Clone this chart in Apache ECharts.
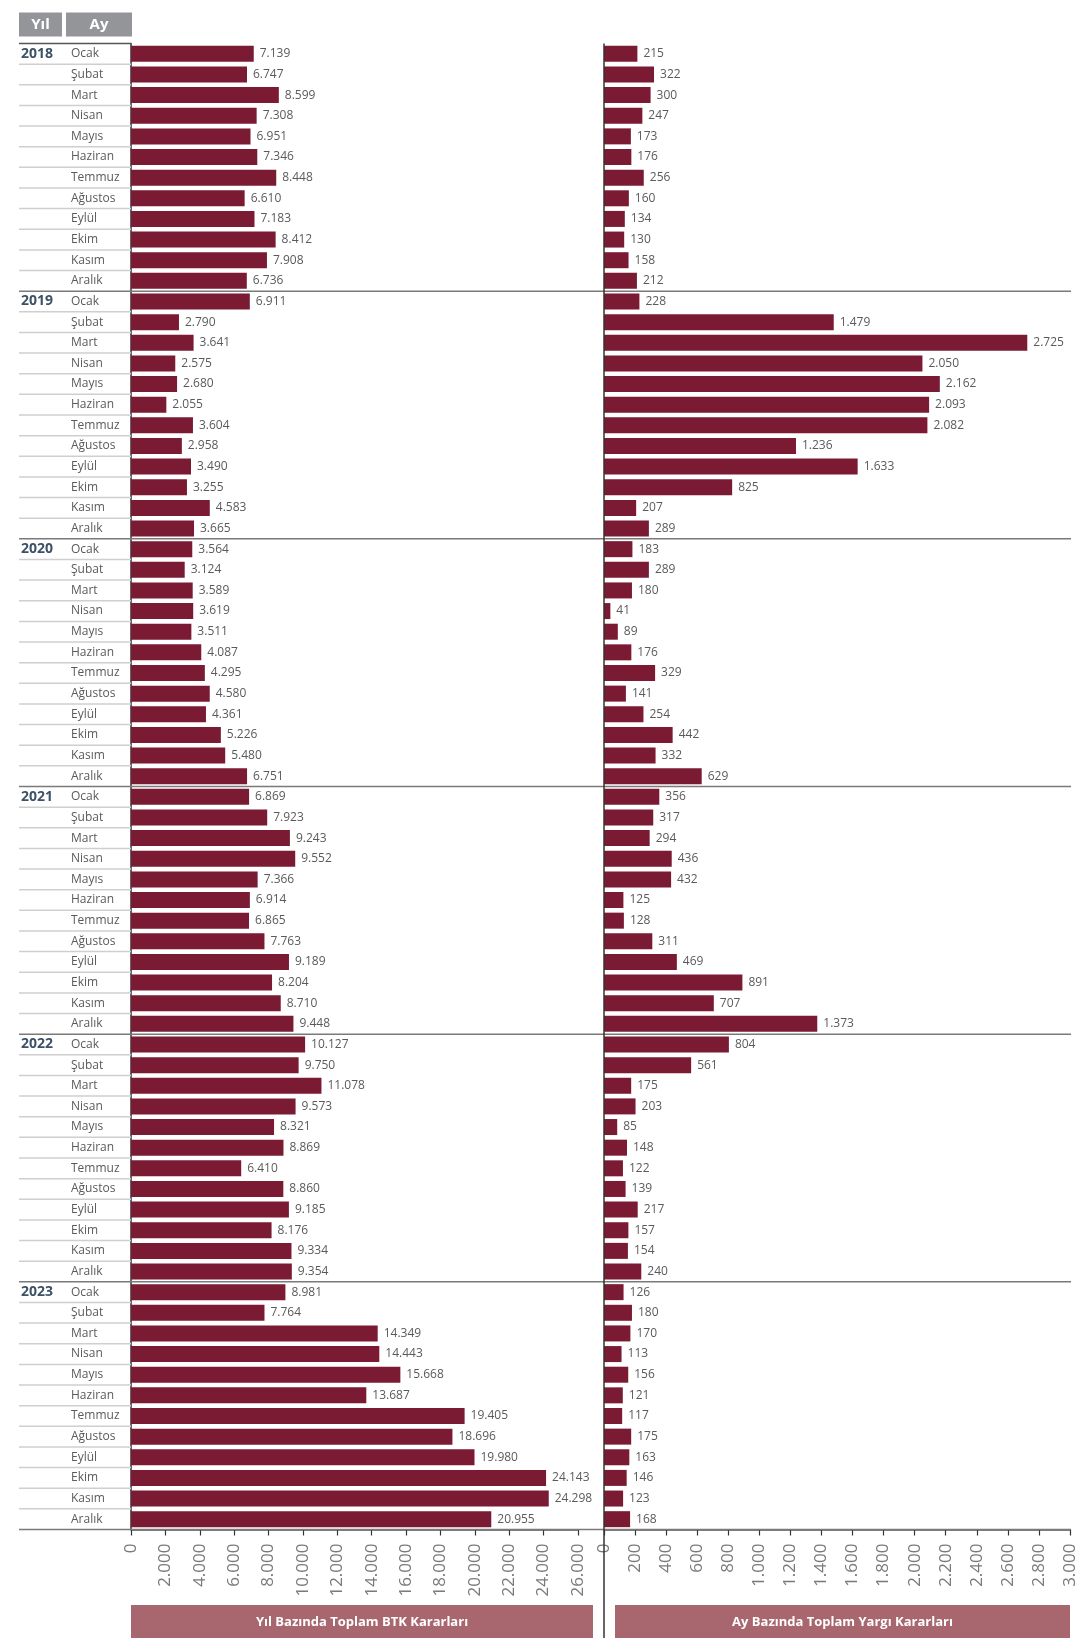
<!DOCTYPE html>
<html><head><meta charset="utf-8">
<script src="https://cdn.jsdelivr.net/npm/echarts@6/dist/echarts.min.js"></script>
<style>html,body{margin:0;padding:0;background:#fff}#c{width:1081px;height:1638px}</style>
</head><body><div id="c"></div>
<script>
const years = ['2018', '2019', '2020', '2021', '2022', '2023'];
const months = ['Ocak', 'Şubat', 'Mart', 'Nisan', 'Mayıs', 'Haziran', 'Temmuz', 'Ağustos', 'Eylül', 'Ekim', 'Kasım', 'Aralık'];

const btk2018 = [7139, 6747, 8599, 7308, 6951, 7346, 8448, 6610, 7183, 8412, 7908, 6736];
const btk2019 = [6911, 2790, 3641, 2575, 2680, 2055, 3604, 2958, 3490, 3255, 4583, 3665];
const btk2020 = [3564, 3124, 3589, 3619, 3511, 4087, 4295, 4580, 4361, 5226, 5480, 6751];
const btk2021 = [6869, 7923, 9243, 9552, 7366, 6914, 6865, 7763, 9189, 8204, 8710, 9448];
const btk2022 = [10127, 9750, 11078, 9573, 8321, 8869, 6410, 8860, 9185, 8176, 9334, 9354];
const btk2023 = [8981, 7764, 14349, 14443, 15668, 13687, 19405, 18696, 19980, 24143, 24298, 20955];

const yargi2018 = [215, 322, 300, 247, 173, 176, 256, 160, 134, 130, 158, 212];
const yargi2019 = [228, 1479, 2725, 2050, 2162, 2093, 2082, 1236, 1633, 825, 207, 289];
const yargi2020 = [183, 289, 180, 41, 89, 176, 329, 141, 254, 442, 332, 629];
const yargi2021 = [356, 317, 294, 436, 432, 125, 128, 311, 469, 891, 707, 1373];
const yargi2022 = [804, 561, 175, 203, 85, 148, 122, 139, 217, 157, 154, 240];
const yargi2023 = [126, 180, 170, 113, 156, 121, 117, 175, 163, 146, 123, 168];

const headerLabels = ['Yıl', 'Ay'];
const leftTitle = 'Yıl Bazında Toplam BTK Kararları';
const rightTitle = 'Ay Bazında Toplam Yargı Kararları';

const categories = [];
years.forEach(y => months.forEach(m => categories.push(y + ' ' + m)));
const btkData = [].concat(btk2018, btk2019, btk2020, btk2021, btk2022, btk2023);
const yargiData = [].concat(yargi2018, yargi2019, yargi2020, yargi2021, yargi2022, yargi2023);

const FONT = '"Open Sans", "Noto Sans", sans-serif';
const fmt = v => String(v).replace(/\B(?=(\d{3})+(?!\d))/g, '.');
const BAR = '#7a1b33';
const BOX = '#a8676e';

const chart = echarts.init(document.getElementById('c'), null, {renderer: 'canvas'});

const TOP = 43.5, HEIGHT = 1486;

const valueAxisCommon = {
  type: 'value', position: 'bottom',
  axisLine: {show: true, lineStyle: {color: '#555', width: 1.5}},
  axisTick: {show: true, length: 6, lineStyle: {color: '#333', width: 1.2}},
  splitLine: {show: false},
  axisLabel: {rotate: 90, fontSize: 17, color: '#7a7a7a', fontFamily: FONT, margin: 14, formatter: v => fmt(v)}
};

const option = {
  animation: false,
  backgroundColor: '#fff',
  textStyle: {fontFamily: FONT},
  grid: [
    {left: 131, width: 447, top: TOP, height: HEIGHT, containLabel: false},
    {left: 604, width: 466, top: TOP, height: HEIGHT, containLabel: false}
  ],
  xAxis: [
    Object.assign({}, valueAxisCommon, {gridIndex: 0, min: 0, max: 26000, interval: 2000}),
    Object.assign({}, valueAxisCommon, {gridIndex: 1, min: 0, max: 3000, interval: 200})
  ],
  yAxis: [
    {
      type: 'category', gridIndex: 0, data: categories, inverse: true,
      axisLine: {show: true, lineStyle: {color: '#333', width: 1.5}},
      axisTick: {show: false},
      axisLabel: {
        interval: 0, margin: 5,
        formatter: (value, idx) => {
          const parts = value.split(' ');
          const mi = months.indexOf(parts[1]);
          return (mi === 0 ? '{y|' + parts[0] + '}' : '{y| }') + '{m|' + parts[1] + '}';
        },
        rich: {
          y: {width: 50, align: 'left', fontWeight: 'bold', fontSize: 14, color: '#3d5266', fontFamily: FONT},
          m: {width: 55, align: 'left', fontSize: 12, color: '#5a5a5a', fontFamily: FONT}
        }
      }
    },
    {
      type: 'category', gridIndex: 1, data: categories, inverse: true,
      axisLine: {show: false}, axisTick: {show: false}, axisLabel: {show: false}
    }
  ],
  series: [
    {
      type: 'bar', xAxisIndex: 0, yAxisIndex: 0, data: btkData, barWidth: 16,
      itemStyle: {color: BAR},
      label: {show: true, position: 'right', distance: 6, color: '#5a5a5a', fontSize: 12, fontFamily: FONT, formatter: p => fmt(p.value)}
    },
    {
      type: 'bar', xAxisIndex: 1, yAxisIndex: 1, data: yargiData, barWidth: 16,
      itemStyle: {color: BAR},
      label: {show: true, position: 'right', distance: 6, color: '#5a5a5a', fontSize: 12, fontFamily: FONT, formatter: p => fmt(p.value)}
    }
  ]
};
chart.setOption(option);

// decorations derived from the axes
const g = [];
const c0 = chart.convertToPixel({yAxisIndex: 0}, categories[0]);
const c1 = chart.convertToPixel({yAxisIndex: 0}, categories[1]);
const rowH = c1 - c0;
const xLeft0 = chart.convertToPixel({xAxisIndex: 0}, 0);
const xRight0 = chart.convertToPixel({xAxisIndex: 1}, 0);
const xRightMax = chart.convertToPixel({xAxisIndex: 1}, 3000);
const LABEL_X = 19;
for (let i = 0; i <= categories.length; i++) {
  const y = c0 - rowH / 2 + i * rowH;
  if (i === 0) {
    g.push({type: 'line', shape: {x1: LABEL_X, y1: y, x2: xLeft0, y2: y}, style: {stroke: '#555', lineWidth: 1.5}, z: 10});
  } else if (i % 12 === 0) {
    g.push({type: 'line', shape: {x1: LABEL_X, y1: y, x2: xRightMax + 1, y2: y}, style: {stroke: '#7a7a7a', lineWidth: 1.5}, z: 10});
  } else {
    g.push({type: 'line', shape: {x1: LABEL_X, y1: y, x2: xLeft0, y2: y}, style: {stroke: '#cfcfcf', lineWidth: 1.5}, z: 9});
  }
}
// vertical divider
g.push({type: 'line', shape: {x1: xRight0, y1: c0 - rowH / 2, x2: xRight0, y2: 1638}, style: {stroke: '#333', lineWidth: 1.5}, z: 11});

function box(x, y, w, h, fill, text, font) {
  g.push({type: 'rect', shape: {x: x, y: y, width: w, height: h}, style: {fill: fill}, z: 10});
  g.push({type: 'text', x: x + w / 2, y: y + h / 2, z: 12,
    style: {text: text, fill: '#fff', font: font, textAlign: 'center', textVerticalAlign: 'middle', align: 'center', verticalAlign: 'middle'}});
}
box(19, 12.5, 43, 24, '#939598', headerLabels[0], 'bold 15px ' + FONT);
box(66, 12.5, 66, 24, '#939598', headerLabels[1], 'bold 15px ' + FONT);
box(xLeft0, 1605, 462, 34, BOX, leftTitle, 'bold 13px ' + FONT);
box(615, 1605, xRightMax - 615, 34, BOX, rightTitle, 'bold 13px ' + FONT);

chart.setOption({graphic: g});
</script>
</body></html>
